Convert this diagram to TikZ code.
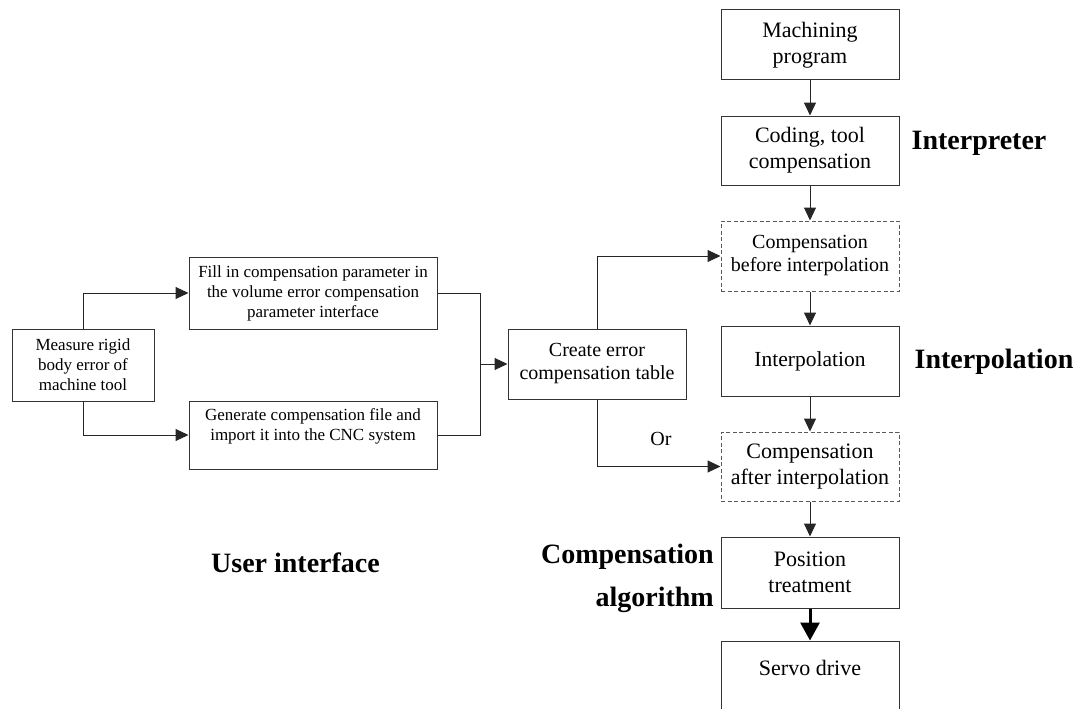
\documentclass[tikz,border=0pt]{standalone}
\usepackage{fontspec}
\setmainfont{Liberation Serif}
\usetikzlibrary{arrows.meta}

\tikzset{
  box/.style={draw=black!80, line width=1pt, inner sep=0pt, align=center, fill=white},
  dbox/.style={box, draw=black!65, dash pattern=on 4pt off 2.5pt},
  small/.style={font=\fontsize{17}{20}\selectfont},
  mid/.style={font=\fontsize{20}{23}\selectfont},
  big/.style={font=\fontsize{22}{26}\selectfont},
  heading/.style={font=\fontsize{28}{43}\selectfont\bfseries, inner sep=0pt},
  conn/.style={line width=1pt, black!85},
  arr/.style={conn, -{Triangle[length=13pt,width=12pt]}},
  thickarr/.style={line width=3pt, -{Triangle[length=18pt,width=19pt]}},
}

\begin{document}
\begin{tikzpicture}[x=1pt, y=-1pt]
\useasboundingbox (0,0) rectangle (1079,709);

% user interface side
\node[box, small, minimum width=142pt, minimum height=72pt] (meas) at (83,365)
  {Measure rigid\\body error of\\machine tool};
\node[box, small, minimum width=248pt, minimum height=72pt] (fill) at (313,293)
  {Fill in compensation parameter in\\the volume error compensation\\parameter interface};
\node[box, small, minimum width=248pt, minimum height=68pt] (gen) at (313,435)
  {Generate compensation file and\\import it into the CNC system\\\mbox{}};
\node[box, mid, minimum width=178pt, minimum height=70pt] (create) at (597,364)
  {Create error\\compensation table};

% processing chain of the CNC system
\node[box, big, minimum width=178pt, minimum height=70pt] (mach) at (810,45)
  {Machining\\program};
\node[box, big, minimum width=178pt, minimum height=69pt] (code) at (810,150.5)
  {Coding, tool\\compensation};
\node[dbox, mid, minimum width=178pt, minimum height=70pt] (cbef) at (810,256)
  {Compensation\\before interpolation};
\node[box, font=\fontsize{21.5}{26}\selectfont, minimum width=178pt, minimum height=70pt] (interp) at (810,361)
  {Interpolation};
\node[dbox, big, minimum width=178pt, minimum height=69pt] (caft) at (810,466.5)
  {Compensation\\after interpolation};
\node[box, big, minimum width=178pt, minimum height=71pt] (pos) at (810,572.5)
  {Position\\treatment};
\node[box, big, minimum width=178pt, minimum height=80pt] (servo) at (810,681)
  {Servo drive\\\mbox{}};

% connectors
\coordinate (join) at (480,364);
\draw[arr] (meas.north) |- (fill.west);
\draw[arr] (meas.south) |- (gen.west);
\draw[conn] (fill.east) -| (join);
\draw[conn] (gen.east) -| (join);
\draw[arr] (join) -- (create.west);
\draw[arr] (create.north) |- (cbef.west);
\draw[arr] (create.south) |- (caft.west);
\node[mid] (or) at (661,439) {Or};

\draw[arr] (mach.south) -- (code.north);
\draw[arr] (code.south) -- (cbef.north);
\draw[arr] (cbef.south) -- (interp.north);
\draw[arr] (interp.south) -- (caft.north);
\draw[arr] (caft.south) -- (pos.north);
\draw[thickarr] (pos.south) -- (servo.north);

% stage headings
\node[heading] (hinterp) at (979,143) {Interpreter};
\node[heading] (hinterpol) at (994,362) {Interpolation};
\node[heading, align=right, anchor=east] (halg) at (714,578.5) {Compensation\\algorithm};
\node[heading] (hui) at (295.5,563) {User interface};
\end{tikzpicture}
\end{document}
